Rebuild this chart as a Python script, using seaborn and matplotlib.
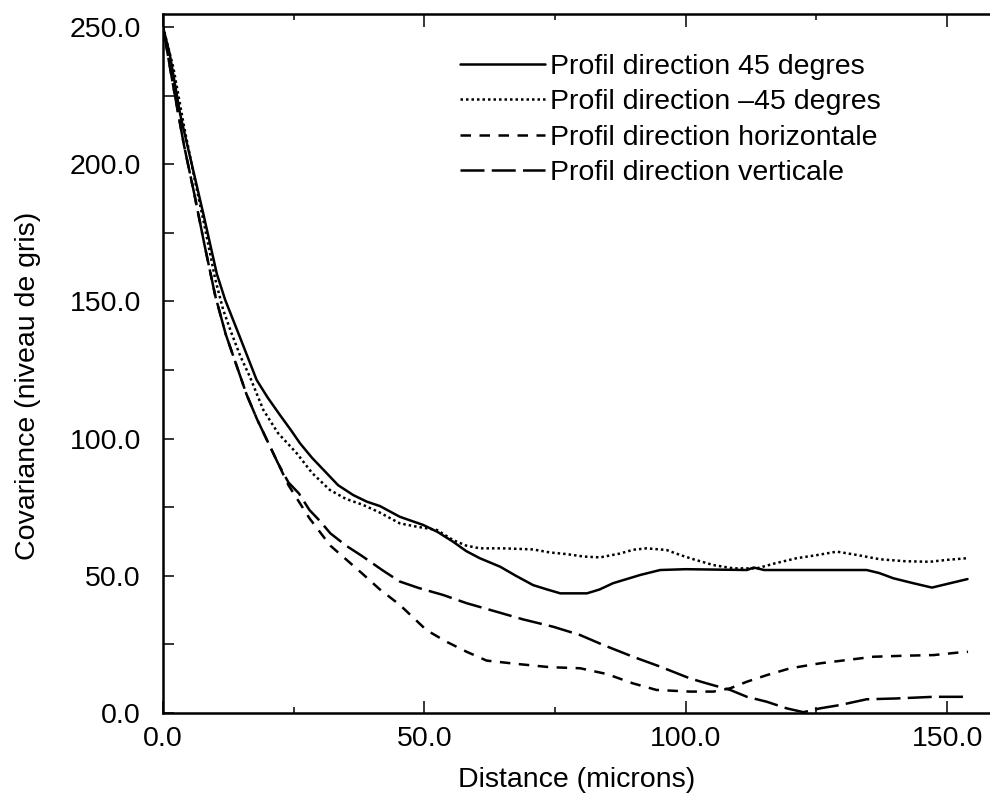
import numpy as np
import pandas as pd
import matplotlib
matplotlib.use("Agg")
import matplotlib.pyplot as plt
from matplotlib.ticker import FixedLocator, FuncFormatter
import seaborn as sns

# Covariance profiles (grey level) as a function of distance (microns)
labels = [
    "Profil direction 45 degres",
    "Profil direction \u201345 degres",
    "Profil direction horizontale",
    "Profil direction verticale",
]

dist_45 = [0, 1.3, 3.3, 5.5, 7.7, 10.3, 11.9, 14.6, 17.9, 20, 22.4, 24.5, 26.2, 28.5,
           30.7, 33.5, 36.4, 39, 41.5, 45.3, 49.8, 52.5, 55.5, 58, 60.6, 64.5, 67.5,
           70.8, 73.5, 76, 81.1, 83.5, 86.1, 91.3, 95.1, 100, 111.7, 113, 115, 134.6,
           137, 139.7, 143.5, 147.1, 150.6, 153.9]
cov_45 = [250, 240, 218, 200, 182, 160, 150.5, 137.5, 121.4, 115, 108.5, 103, 98.3, 93,
          88.6, 83, 79.4, 77, 75.4, 71.5, 68.5, 66, 62.4, 59, 56.4, 53.3, 50,
          46.6, 45, 43.6, 43.6, 45, 47.3, 50.3, 52.1, 52.4, 52.1, 53, 52.1, 52.1,
          51, 49.1, 47.3, 45.7, 47.3, 48.8]

dist_m45 = [0, 2, 4, 6, 8, 10, 11.5, 13.1, 14.8, 16.6, 19.2, 22, 25.6, 28.5, 31.9, 35,
            38.3, 41.5, 45.3, 48.5, 52.4, 55.5, 58, 60.6, 65, 70.8, 74, 77.2, 80.5,
            83.6, 87.4, 90, 92.5, 96.3, 98.9, 101.5, 105.3, 109.1, 113.6, 117, 121.2,
            125, 128.9, 132.7, 137.2, 142, 146.7, 150, 153.8]
cov_m45 = [250, 235, 214, 195, 177, 158, 147, 138.4, 130, 122.6, 110.4, 102, 94.6, 87.5,
           81.3, 78, 75.8, 73, 69.1, 67.9, 66.7, 63, 61, 60, 60, 59.6, 58.5, 57.9, 57,
           56.7, 58.1, 59.5, 60, 59.4, 57.6, 56, 53.9, 52.7, 52.7, 54.5, 56.4,
           57.5, 58.8, 57.6, 56, 55.3, 55.1, 55.8, 56.4]

dist_h = [0, 2, 4, 6, 8, 10, 12, 14, 16, 18, 20, 22, 24, 26, 28, 30, 32, 35, 38, 41.5,
          45.3, 50.4, 54.2, 58.1, 61.9, 67.6, 74, 79.8, 84.9, 89.9, 94.4, 100.8, 105.3,
          108.5, 111.7, 115.5, 120, 125.7, 130.8, 135.9, 142.3, 147.4, 152.5, 154]
cov_h = [250, 228, 207, 189, 170, 152, 138, 127, 116, 107, 99, 91, 83, 77, 71, 66, 61,
         56, 51, 45, 39.4, 30.2, 26, 22.3, 19.1, 17.9, 16.7, 16.3, 14.2, 10.8, 8.4,
         7.8, 7.8, 9, 11.4, 13.8, 16.3, 18.1, 19.3, 20.5, 20.9, 21.1, 22.1, 22.3]

dist_v = [0, 2, 4, 6, 8, 10, 12, 14, 16, 18, 20, 22, 24, 26, 28, 30, 32, 35, 38, 42,
          45.3, 49, 53.6, 58.1, 63.8, 68.9, 74.7, 79.8, 84.2, 89.9, 95.1, 100.8, 104,
          108.5, 111.7, 115.5, 119.3, 122.5, 125.7, 129.5, 134.6, 140.3, 147.4, 153.7]
cov_v = [250, 228, 207, 189, 170, 152, 138, 127, 116, 107, 99, 91, 84, 80, 74, 70, 65.5,
         61, 57.3, 52, 47.9, 45.5, 43, 40, 36.9, 34.1, 31.4, 28.4, 24.8, 20.5, 16.9,
         12.6, 10.8, 8.4, 5.9, 4.1, 1.7, 0.3, 1.7, 2.9, 5, 5.3, 5.9, 5.9]

frames = []
for lab, d, c in zip(labels, [dist_45, dist_m45, dist_h, dist_v],
                     [cov_45, cov_m45, cov_h, cov_v]):
    frames.append(pd.DataFrame({"distance": d, "covariance": c, "profil": lab}))
df = pd.concat(frames, ignore_index=True)

sns.set_theme(style="ticks")
plt.rcParams["font.family"] = ["Liberation Sans", "DejaVu Sans"]
plt.rcParams["font.size"] = 20.5
for key in ["text.color", "axes.labelcolor", "xtick.color", "ytick.color",
            "axes.edgecolor"]:
    plt.rcParams[key] = "black"

fig = plt.figure(figsize=(9.9, 7.94), dpi=100)
ax = fig.add_axes([163 / 990, 81 / 794, 827 / 990, 699 / 794])

line_dashes = {
    labels[0]: "",
    labels[1]: (1.0, 1.2),
    labels[2]: (4.2, 3.4),
    labels[3]: (9.6, 2.9),
}

sns.lineplot(data=df, x="distance", y="covariance", style="profil",
             style_order=labels, dashes=line_dashes, color="black",
             linewidth=1.8, estimator=None, sort=False, ax=ax)

ax.set_xlim(0, 158.2)
ax.set_ylim(0, 254.7)

ax.xaxis.set_major_locator(FixedLocator([0, 50, 100, 150]))
ax.xaxis.set_minor_locator(FixedLocator([25, 75, 125]))
ax.yaxis.set_major_locator(FixedLocator([0, 50, 100, 150, 200, 250]))
ax.yaxis.set_minor_locator(FixedLocator([25, 75, 125, 175, 225]))
fmt = FuncFormatter(lambda v, p: f"{v:.1f}")
ax.xaxis.set_major_formatter(fmt)
ax.yaxis.set_major_formatter(fmt)

ax.tick_params(axis="x", which="major", direction="in", length=9, width=1.1,
               top=True, labelsize=20.5, pad=9, colors="black")
ax.tick_params(axis="x", which="minor", direction="in", length=4.5, width=1.1,
               top=True)
ax.tick_params(axis="y", which="both", direction="in", length=8, width=1.1,
               right=False, labelsize=20.5, pad=16, colors="black")

for side in ["left", "bottom", "top"]:
    ax.spines[side].set_linewidth(1.8)
    ax.spines[side].set_color("black")
ax.spines["right"].set_visible(False)

ax.set_xlabel("Distance (microns)", fontsize=20.5, labelpad=11, color="black")
ax.set_ylabel("Covariance (niveau de gris)", fontsize=20.5, color="black")
ax.yaxis.set_label_coords(-0.148, 0.468)

handles, hlabels = ax.get_legend_handles_labels()
leg = ax.legend(handles, hlabels, loc="upper left", bbox_to_anchor=(0.359, 0.943),
                frameon=False, fontsize=20.5, handlelength=3.0, handletextpad=0.15,
                labelspacing=0.33, borderpad=0, borderaxespad=0)
for t in leg.get_texts():
    t.set_color("black")

fig.savefig("out.png", dpi=100)
